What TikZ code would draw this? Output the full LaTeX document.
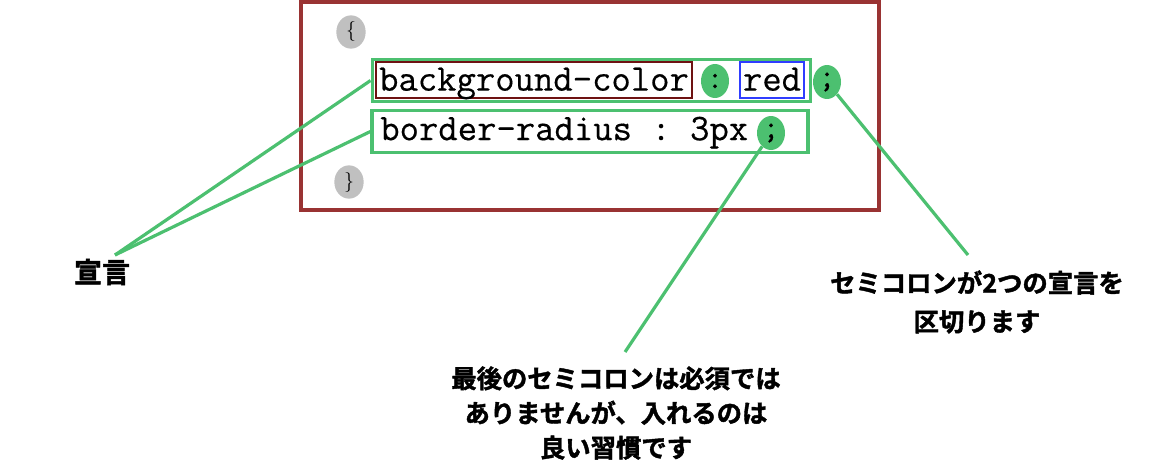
\documentclass[tikz,border=0pt]{standalone}
\usepackage{fontspec}
\setmonofont{Latin Modern Mono}[FakeBold=0.4]
\newfontfamily\jpfont{Noto Sans CJK JP}[BoldFont={* Bold}, BoldFeatures={FakeBold=1.6}]
\usetikzlibrary{positioning,shapes.geometric}
\definecolor{ruleRed}{HTML}{993333}
\definecolor{propRed}{HTML}{6E1212}
\definecolor{valBlue}{HTML}{2F3DFF}
\definecolor{declGreen}{HTML}{4CC070}
\definecolor{braceGray}{HTML}{C0C0C0}
\tikzset{
  codetext/.style={font=\ttfamily\fontsize{28.2}{30}\selectfont, inner sep=0pt, text height=20pt, text depth=4pt},
  greenbox/.style={draw=declGreen, line width=2.4pt, minimum height=32pt},
  pill/.style={ellipse, fill=declGreen, minimum width=21pt, minimum height=25.5pt, inner sep=0pt,
    font=\ttfamily\fontsize{25}{25}\selectfont},
  bracepill/.style={ellipse, fill=braceGray, minimum width=22pt, minimum height=25pt, inner sep=0pt,
    font=\fontsize{15}{16}\selectfont},
  pointer/.style={draw=declGreen, line width=2.4pt},
  note/.style={font=\jpfont\bfseries\fontsize{19}{26}\selectfont, align=center, inner sep=0pt}
}
\begin{document}
\begin{tikzpicture}[x=0.75pt,y=-0.75pt]
        \useasboundingbox (0,0) rectangle (1160,467);
        % the rule set
        \draw[ruleRed, line width=2.4pt] (301,2) rectangle (879,210);
        \node[bracepill] (lbrace) at (351,32) {\{};
        \node[bracepill] (rbrace) at (349,182) {\}};

        % first declaration
        \node[greenbox, minimum width=329pt] (row1) at (591.5,80.5) {};
        \node[codetext, draw=propRed, line width=2.2pt, minimum width=237pt, minimum height=27pt] (prop) at (534,80) {background-color};
        \node[pill] (colon) at (715,81) {:};
        \node[codetext, draw=valBlue, line width=2.2pt, minimum width=48pt, minimum height=27pt] (val) at (772,80) {red};
        \node[pill] (semi1) at (827,82) {;};

        % second declaration
        \node[greenbox, minimum width=327pt] (row2) at (590,131.5) {};
        \node[codetext, anchor=west] (decl2) at (380,129.5) {border-radius : 3px};
        \node[pill] (semi2) at (771,133) {;};

        % labels
        \node[note, font=\jpfont\bfseries\fontsize{21}{26}\selectfont] (decl) at (102,272) {宣言};
        \node[note, font=\jpfont\bfseries\fontsize{19}{29}\selectfont] (sepnote) at (977,302) {セミコロンが2つの宣言を\\区切ります};
        \node[note] (lastnote) at (616,413) {最後のセミコロンは必須では\\ありませんが、入れるのは\\良い習慣です};

        \coordinate (declTip) at (115,255);
        \coordinate (sepTip) at (968,255);
        \coordinate (lastTip) at (625,352);
        \draw[pointer] (declTip) -- (row1.west);
        \draw[pointer] (declTip) -- (row2.west);
        \draw[pointer] (semi1) -- (sepTip);
        \draw[pointer] (semi2) -- (lastTip);
        \end{tikzpicture}
\end{document}
